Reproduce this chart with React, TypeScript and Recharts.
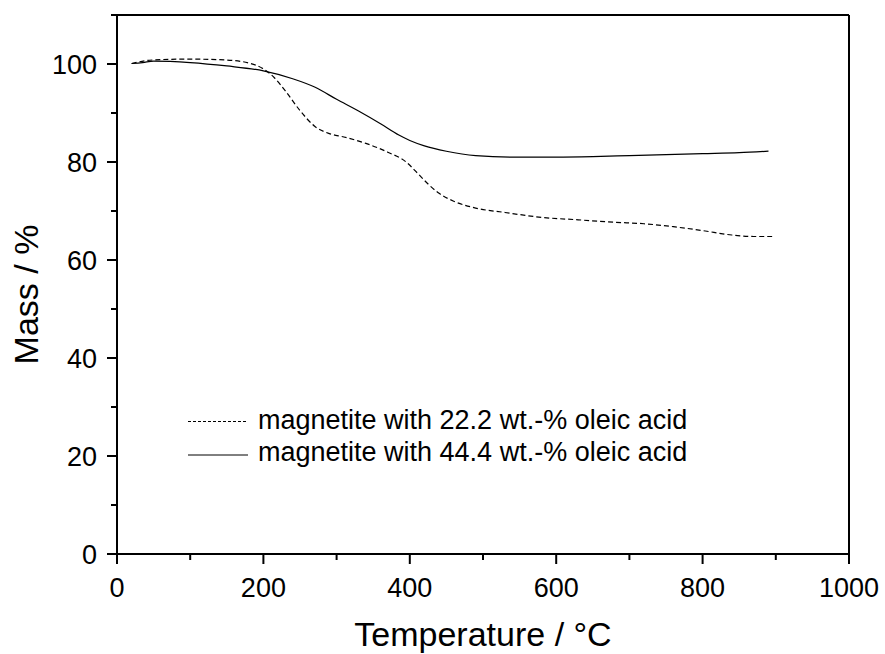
import { LineChart, Line, XAxis, YAxis, Legend } from 'recharts';

const FONT = '"Liberation Sans", Arial, sans-serif';

// TGA curves
const temp22 = [20, 40, 60, 100, 150, 180, 200, 215, 230, 250, 270, 290, 310, 340, 370, 395, 410, 425, 440, 460, 490, 530, 580, 630, 680, 720, 760, 800, 840, 870, 895];
const mass22 = [100.1, 100.7, 100.9, 101, 100.8, 100.2, 99, 97.2, 94.5, 90.5, 87.3, 85.8, 85.1, 83.8, 82, 80, 77.8, 75.5, 73.6, 72, 70.6, 69.7, 68.7, 68.2, 67.7, 67.4, 66.8, 66, 65.1, 64.8, 64.8];

const temp44 = [20, 35, 50, 100, 150, 200, 240, 270, 300, 330, 360, 385, 400, 420, 450, 490, 540, 600, 650, 700, 750, 800, 850, 890];
const mass44 = [100.1, 100.3, 100.6, 100.3, 99.6, 98.6, 97, 95.3, 92.8, 90.4, 87.8, 85.5, 84.4, 83.3, 82.2, 81.3, 81, 81, 81.1, 81.3, 81.5, 81.7, 81.9, 82.2];

const xTicks = [0, 100, 200, 300, 400, 500, 600, 700, 800, 900, 1000];
const yTicks = [0, 10, 20, 30, 40, 50, 60, 70, 80, 90, 100, 110];

const seriesNames = ['magnetite with 22.2 wt.-% oleic acid', 'magnetite with 44.4 wt.-% oleic acid'];

const data22 = temp22.map((t, i) => ({ t, m: mass22[i] }));
const data44 = temp44.map((t, i) => ({ t, m: mass44[i] }));

const isMajorX = (v: number) => v % 200 === 0;
const isMajorY = (v: number) => v % 20 === 0 && v <= 100;

function BottomTick({ x, y, payload }: any) {
  const major = isMajorX(payload.value);
  return (
    <g>
      <line x1={x} y1={y} x2={x} y2={y + (major ? 10 : 6)} stroke="#000" strokeWidth={2} />
      {major && (
        <text x={x} y={y + 43} textAnchor="middle" fontSize={27} fontFamily={FONT} fill="#000">
          {payload.value}
        </text>
      )}
    </g>
  );
}

function LeftTick({ x, y, payload }: any) {
  const major = isMajorY(payload.value);
  return (
    <g>
      <line x1={x - (major ? 10 : 6)} y1={y} x2={x} y2={y} stroke="#000" strokeWidth={2} />
      {major && (
        <text x={x - 20} y={y} dy="0.36em" textAnchor="end" fontSize={27} fontFamily={FONT} fill="#000">
          {payload.value}
        </text>
      )}
    </g>
  );
}

function TopTick({ x, y, payload }: any) {
  const len = isMajorX(payload.value) ? 10 : 6;
  return <line x1={x} y1={y} x2={x} y2={y + len} stroke="#000" strokeWidth={2} />;
}

function RightTick({ x, y, payload }: any) {
  const len = isMajorY(payload.value) ? 10 : 6;
  return <line x1={x - len} y1={y} x2={x} y2={y} stroke="#000" strokeWidth={2} />;
}

function XTitle({ viewBox }: any) {
  const { x, y, width, height } = viewBox;
  return (
    <text x={x + width / 2} y={y + height - 8} textAnchor="middle" fontSize={34} fontFamily={FONT} fill="#000">
      Temperature / °C
    </text>
  );
}

function YTitle({ viewBox }: any) {
  const { x, y, height } = viewBox;
  const cx = x + 38;
  const cy = y + height / 2 + 10;
  return (
    <text x={cx} y={cy} transform={`rotate(-90 ${cx} ${cy})`} textAnchor="middle" fontSize={34} fontFamily={FONT} fill="#000">
      Mass / %
    </text>
  );
}

function LegendBox() {
  return (
    <svg width={520} height={70}>
      <line x1={3} y1={21.5} x2={63} y2={21.5} stroke="#000" strokeWidth={1} strokeDasharray="3 2" />
      <text x={73} y={29} fontSize={27} fontFamily={FONT} fill="#000">{seriesNames[0]}</text>
      <line x1={3} y1={55} x2={63} y2={55} stroke="#000" strokeWidth={1} />
      <text x={73} y={61} fontSize={27} fontFamily={FONT} fill="#000">{seriesNames[1]}</text>
    </svg>
  );
}

export default function App() {
  return (
    <div style={{ position: 'absolute', left: 0, top: 0, background: '#fff' }}>
      <LineChart width={885} height={654} margin={{ top: 0, right: 0, bottom: 0, left: 0 }}>
        <XAxis
          xAxisId="top"
          orientation="top"
          type="number"
          domain={[0, 1000]}
          ticks={xTicks}
          interval={0}
          height={15}
          tickSize={0}
          tickMargin={0}
          tickLine={false}
          tick={<TopTick />}
          axisLine={{ stroke: '#000', strokeWidth: 2 }}
        />
        <XAxis
          dataKey="t"
          type="number"
          domain={[0, 1000]}
          ticks={xTicks}
          interval={0}
          height={100}
          tickSize={0}
          tickMargin={0}
          tickLine={false}
          tick={<BottomTick />}
          axisLine={{ stroke: '#000', strokeWidth: 2 }}
          label={<XTitle />}
        />
        <YAxis
          type="number"
          domain={[0, 110]}
          ticks={yTicks}
          interval={0}
          width={117}
          tickSize={0}
          tickMargin={0}
          tickLine={false}
          tick={<LeftTick />}
          axisLine={{ stroke: '#000', strokeWidth: 2 }}
          label={<YTitle />}
        />
        <YAxis
          yAxisId="right"
          orientation="right"
          type="number"
          domain={[0, 110]}
          ticks={yTicks}
          interval={0}
          width={36}
          tickSize={0}
          tickMargin={0}
          tickLine={false}
          tick={<RightTick />}
          axisLine={{ stroke: '#000', strokeWidth: 2 }}
        />
        <Legend
          layout="horizontal"
          verticalAlign="middle"
          align="center"
          wrapperStyle={{ left: 185, top: 400, width: 520, height: 70 }}
          content={<LegendBox />}
        />
        <Line
          data={data22}
          dataKey="m"
          type="monotone"
          stroke="#000"
          strokeWidth={1.2}
          strokeDasharray="5 3"
          dot={false}
          isAnimationActive={false}
        />
        <Line
          data={data44}
          dataKey="m"
          type="monotone"
          stroke="#000"
          strokeWidth={1.2}
          dot={false}
          isAnimationActive={false}
        />
      </LineChart>
    </div>
  );
}
